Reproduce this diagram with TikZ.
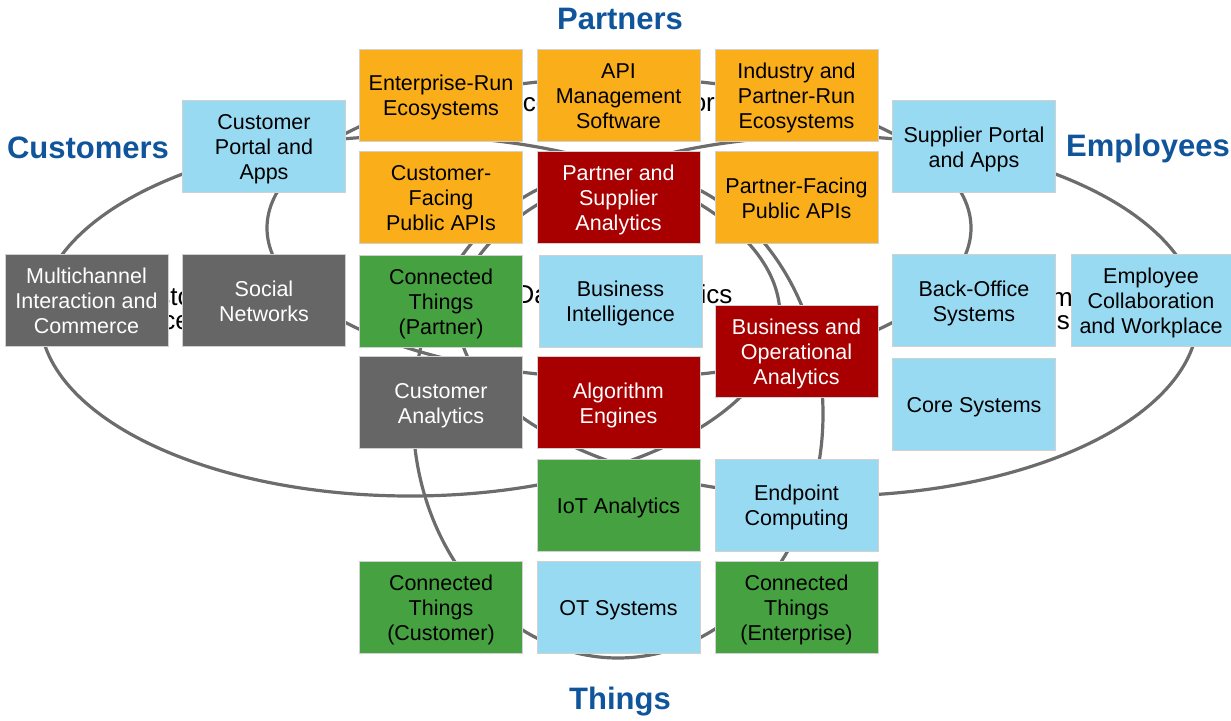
\documentclass[tikz,border=0pt]{standalone}
\usepackage{fontspec}
\setmainfont{Liberation Sans}
\definecolor{ttlc}{RGB}{16,84,156}
\definecolor{orng}{RGB}{250,174,26}
\definecolor{lblue}{RGB}{153,218,243}
\definecolor{dred}{RGB}{168,0,0}
\definecolor{grn}{RGB}{70,161,64}
\definecolor{gry}{RGB}{102,102,102}
\definecolor{ringc}{RGB}{108,108,108}
\newcommand\bx[1]{\raisebox{0pt}[\dimexpr\height+6pt\relax][\depth]{\begin{tabular}{@{}c@{}}#1\end{tabular}}}
\begin{document}
\begin{tikzpicture}[x=1pt,y=-1pt,
  box/.style={rectangle, minimum width=163pt, minimum height=92pt, inner sep=0pt,
    font=\fontsize{21.5}{25}\selectfont, draw=black!18, line width=0.6pt},
  ob/.style={box, fill=orng, text=black},
  bb/.style={box, fill=lblue, text=black},
  rb/.style={box, fill=dred, text=white},
  gb/.style={box, fill=grn, text=black},
  yb/.style={box, fill=gry, text=white},
  ttl/.style={font=\fontsize{31}{36}\selectfont\bfseries, text=ttlc, inner sep=0pt},
  ring/.style={draw=ringc, line width=3.2pt},
  hid/.style={font=\fontsize{26}{30}\selectfont, inner sep=0pt, text=black}]

\useasboundingbox (0,0) rectangle (1231,720);

% rings
\draw[ring] (410,316) ellipse [x radius=370pt, y radius=180pt];
\draw[ring] (828,316) ellipse [x radius=370pt, y radius=180pt];
\draw[ring] (619,228) ellipse [x radius=352pt, y radius=150pt];
\draw[ring] (618,414) ellipse [x radius=205pt, y radius=244pt];

% labels of the rings, mostly hidden behind the boxes
\node[hid, anchor=west] (hcust1) at (124,297) {Customer};
\node[hid, anchor=east] (hcust2) at (190,323) {Experience};
\node[hid] (hda) at (624,297) {Data and Analytics};
\node[hid, anchor=west] (hinf1) at (999,297) {Information};
\node[hid, anchor=east] (hinf2) at (1070,323) {Systems};
\node[hid] (heco) at (621,105) {Ecosystem Platform};

% boxes
\node[ob] (ers) at (441,95) {\bx{Enterprise-Run\\Ecosystems}};
\node[ob] (api) at (618.5,95) {\bx{API\\Management\\Software}};
\node[ob] (ind) at (796.5,95) {\bx{Industry and\\Partner-Run\\Ecosystems}};
\node[bb] (cpa) at (264,146.5) {\bx{Customer\\Portal and\\Apps}};
\node[bb] (spa) at (974,146.5) {\bx{Supplier Portal\\and Apps}};
\node[ob] (cfa) at (441,197.5) {\bx{Customer-\\Facing\\Public APIs}};
\node[rb] (psa) at (618.5,197.5) {\bx{Partner and\\Supplier\\Analytics}};
\node[ob] (pfa) at (796.5,197.5) {\bx{Partner-Facing\\Public APIs}};
\node[yb] (mic) at (86.5,300.5) {\bx{Multichannel\\Interaction and\\Commerce}};
\node[yb] (son) at (264,300.5) {\bx{Social\\Networks}};
\node[gb] (ctp) at (441,301) {\bx{Connected\\Things\\(Partner)}};
\node[bb] (bin) at (620.5,301) {\bx{Business\\Intelligence}};
\node[bb] (bos) at (974,300.5) {\bx{Back-Office\\Systems}};
\node[bb, minimum width=160pt] (ecw) at (1151,300.5) {\bx{Employee\\Collaboration\\and Workplace}};
\node[rb] (boa) at (796.5,351) {\bx{Business and\\Operational\\Analytics}};
\node[yb] (cua) at (441,402.5) {\bx{Customer\\Analytics}};
\node[rb] (alg) at (618.5,402.5) {\bx{Algorithm\\Engines}};
\node[bb] (cor) at (974,404.5) {\bx{Core Systems}};
\node[gb] (iot) at (618.5,505) {\bx{IoT Analytics}};
\node[bb] (epc) at (796.5,505) {\bx{Endpoint\\Computing}};
\node[gb] (ctc) at (441,607.5) {\bx{Connected\\Things\\(Customer)}};
\node[bb] (ots) at (618.5,607.5) {\bx{OT Systems}};
\node[gb] (cte) at (796.5,607.5) {\bx{Connected\\Things\\(Enterprise)}};

% titles
\node[ttl] (tpar) at (620,19) {Partners};
\node[ttl] (tcus) at (88,148) {Customers};
\node[ttl] (temp) at (1148,148) {Employees};
\node[ttl] (tthi) at (620,702) {Things};
\end{tikzpicture}
\end{document}
